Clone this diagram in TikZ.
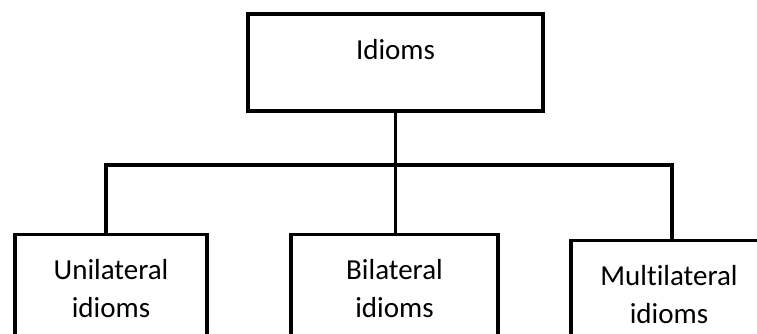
\documentclass[tikz,border=0pt]{standalone}
\usepackage{fontspec}
\setmainfont{Carlito}[Ligatures=NoCommon]
\usepackage{tikz}
\usetikzlibrary{calc}
\tikzset{
    box/.style={draw, line width=3.2pt, inner sep=0pt, align=center, minimum height=#1},
    wire/.style={line width=3.2pt}
}

\begin{document}
\begin{tikzpicture}[x=1pt, y=-1pt, font=\fontsize{29}{38}\selectfont]
\useasboundingbox (0,0) rectangle (757,333);
\clip (0,0) rectangle (757,333);
\node[box=97, minimum width=295, text height=21pt, text depth=28pt] (idioms) at (395.5,62.5) {Idioms};
\foreach \x/\y/\w/\p/\labeltext in {111/233/192/uni/{Unilateral\\idioms}, 394.5/233/207/bi/{Bilateral\\idioms}, 669/239/196/multi/{Multilateral\\idioms}}{
    \node[box=108, minimum width=\w, anchor=north] (\p) at (\x,\y) {\labeltext};
}
\coordinate (jl) at (106,165);
\coordinate (jr) at (672,165);
\draw[wire] (uni.north -| jl) -- (jl) -- (jr) -- (multi.north -| jr);
\draw[wire] (idioms.south) -- (idioms.south |- bi.north);
\end{tikzpicture}
\end{document}
